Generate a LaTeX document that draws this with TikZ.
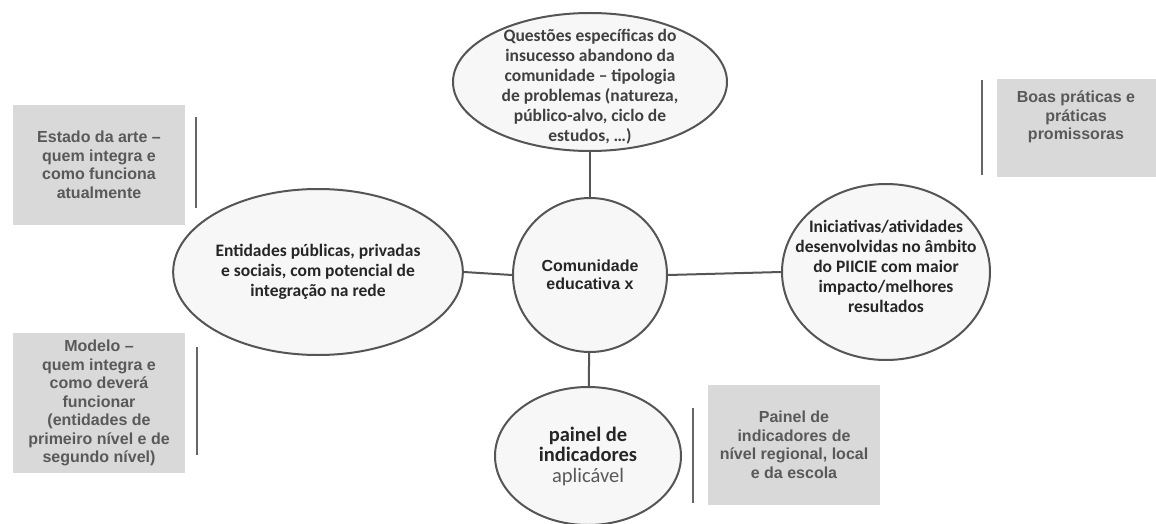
\documentclass[tikz,border=0pt]{standalone}
\usepackage{fontspec}
\setmainfont{Carlito}
\newfontfamily\arialf{Liberation Sans}
\usetikzlibrary{shapes.geometric}
\definecolor{ellfill}{HTML}{F7F7F7}
\definecolor{ellline}{HTML}{555555}
\definecolor{boxfill}{HTML}{D9D9D9}
\definecolor{boxtext}{HTML}{595959}
\definecolor{darktext}{HTML}{262626}
\definecolor{midtext}{HTML}{404040}
\tikzset{
  ell/.style={ellipse, draw=ellline, line width=2pt, fill=ellfill, inner sep=0pt, align=center, font=\fontsize{17.5}{20}\selectfont\bfseries},
  txt/.style={inner sep=0pt, align=center, font=\fontsize{17.5}{20}\selectfont\bfseries},
  graybox/.style={rectangle, fill=boxfill, inner sep=0pt, align=center, text=boxtext, font=\arialf\fontsize{16}{18.5}\selectfont\bfseries},
  graytxt/.style={inner sep=0pt, align=center, text=boxtext, font=\arialf\fontsize{16}{18.5}\selectfont\bfseries},
  link/.style={draw=ellline, line width=2pt},
  sep/.style={draw=ellline!90, line width=2pt}
}
\begin{document}
\begin{tikzpicture}[x=1pt,y=-1pt]
\useasboundingbox (0,0) rectangle (1156,524);
% ellipses
\node[ell, minimum width=274pt, minimum height=138pt] (top) at (590,82) {};
\node[txt, text=midtext] (toptext) at (590,87)
  {Questões específicas do\\insucesso abandono da\\comunidade – tipologia\\de problemas (natureza,\\público-alvo, ciclo de\\estudos, …)};
\node[ell, minimum width=288pt, minimum height=166pt, text=darktext] (left) at (318,272)
  {Entidades públicas, privadas\\e sociais, com potencial de\\integração na rede};
\node[ell, circle, minimum size=154pt, text=darktext, font=\arialf\fontsize{16}{18.5}\selectfont\bfseries] (center) at (590,275)
  {Comunidade\\educativa x};
\node[ell, minimum width=208pt, minimum height=176pt] (right) at (886,272) {};
\node[txt, text=darktext] (righttext) at (886,266)
  {Iniciativas/atividades\\desenvolvidas no âmbito\\do PIICIE com maior\\impacto/melhores\\resultados};
\node[ell, minimum width=186pt, minimum height=138pt, text=darktext, font=\fontsize{20.5}{20.5}\selectfont\bfseries] (bottom) at (588,456)
  {painel de\\indicadores\\{\mdseries\color{boxtext}aplicável}};
% connectors
\draw[link] (top) -- (center);
\draw[link] (left.east) -- (center.west);
\draw[link] (center.east) -- (right.west);
\draw[link] (center) -- (bottom);
% gray boxes
\node[graybox, minimum width=172pt, minimum height=120pt] (estado) at (99,165)
  {Estado da arte –\\quem integra e\\como funciona\\atualmente};
\node[graybox, minimum width=172pt, minimum height=140pt] (modelo) at (99,403)
  {Modelo –\\quem integra e\\como deverá\\funcionar\\(entidades de\\primeiro nível e de\\segundo nível)};
\node[graybox, minimum width=159pt, minimum height=98pt, anchor=north west] (boas) at (997,79) {};
\node[graytxt] (boastext) at (1076,117)
  {Boas práticas e\\práticas\\promissoras};
\node[graybox, minimum width=172pt, minimum height=120pt] (painel) at (794,445)
  {Painel de\\indicadores de\\nível regional, local\\e da escola};
% separator lines
\draw[sep] (196,117) -- (196,208);
\draw[sep] (197,347) -- (197,455);
\draw[sep] (982,80) -- (982,175);
\draw[sep] (693,408) -- (693,503);
\end{tikzpicture}
\end{document}
